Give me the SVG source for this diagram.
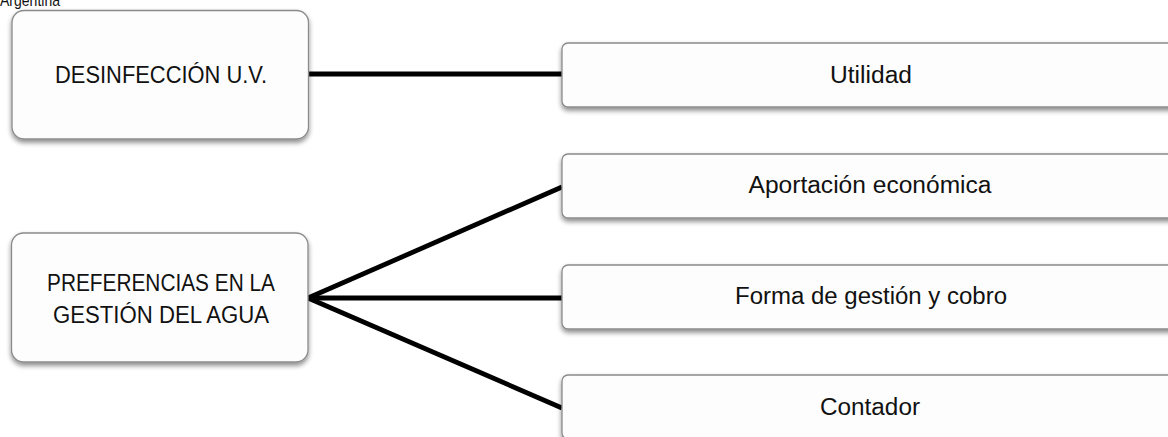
<svg xmlns="http://www.w3.org/2000/svg" width="1168" height="437" viewBox="0 0 1168 437">
  <defs>
    <filter id="shadow" x="-10%" y="-20%" width="120%" height="150%">
      <feGaussianBlur in="SourceAlpha" stdDeviation="2.5"/>
      <feOffset dx="0" dy="3" result="b"/>
      <feComponentTransfer><feFuncA type="linear" slope="0.45"/></feComponentTransfer>
      <feMerge><feMergeNode/><feMergeNode in="SourceGraphic"/></feMerge>
    </filter>
  </defs>
  <style>
    .box { fill: #fdfdfd; stroke: #8a8a8a; stroke-width: 1.3; filter: url(#shadow); }
    .lbl { font-family: "Liberation Sans", Arial, sans-serif; font-size: 23px; fill: #111; text-anchor: middle; }
    .edge { stroke: #000; stroke-width: 4.8; fill: none; stroke-linecap: butt; }
  </style>
  <rect width="1168" height="437" fill="#ffffff"/>
  <text x="0" y="6" textLength="60" lengthAdjust="spacingAndGlyphs" style="font-family:'Liberation Sans',Arial,sans-serif;font-size:17px;fill:#111">Argentina</text>

  <g id="connectors">
    <line class="edge" x1="308" y1="74" x2="562" y2="74"/>
    <line class="edge" x1="308" y1="298" x2="562" y2="187"/>
    <line class="edge" x1="308" y1="298" x2="562" y2="298"/>
    <line class="edge" x1="308" y1="298" x2="562" y2="408"/>
  </g>

  <g id="node-desinfeccion">
    <rect class="box" x="12" y="10.5" width="296.5" height="128.5" rx="12"/>
    <text class="lbl" x="161" y="83" textLength="212" lengthAdjust="spacingAndGlyphs">DESINFECCIÓN U.V.</text>
  </g>

  <g id="node-preferencias">
    <rect class="box" x="11.5" y="233" width="296.5" height="129" rx="12"/>
    <text class="lbl" x="161" y="291" textLength="228" lengthAdjust="spacingAndGlyphs">PREFERENCIAS EN LA</text>
    <text class="lbl" x="161" y="323" textLength="216" lengthAdjust="spacingAndGlyphs">GESTIÓN DEL AGUA</text>
  </g>

  <g id="node-utilidad">
    <rect class="box" x="562" y="43" width="620" height="64" rx="6"/>
    <text class="lbl" x="871" y="83" textLength="82" lengthAdjust="spacingAndGlyphs">Utilidad</text>
  </g>

  <g id="node-aportacion">
    <rect class="box" x="562" y="154" width="620" height="64" rx="6"/>
    <text class="lbl" x="870" y="193" textLength="243" lengthAdjust="spacingAndGlyphs">Aportación económica</text>
  </g>

  <g id="node-forma">
    <rect class="box" x="562" y="265" width="620" height="64" rx="6"/>
    <text class="lbl" x="871" y="304" textLength="272" lengthAdjust="spacingAndGlyphs">Forma de gestión y cobro</text>
  </g>

  <g id="node-contador">
    <rect class="box" x="562" y="375" width="620" height="64" rx="6"/>
    <text class="lbl" x="870" y="415" textLength="100" lengthAdjust="spacingAndGlyphs">Contador</text>
  </g>
</svg>
